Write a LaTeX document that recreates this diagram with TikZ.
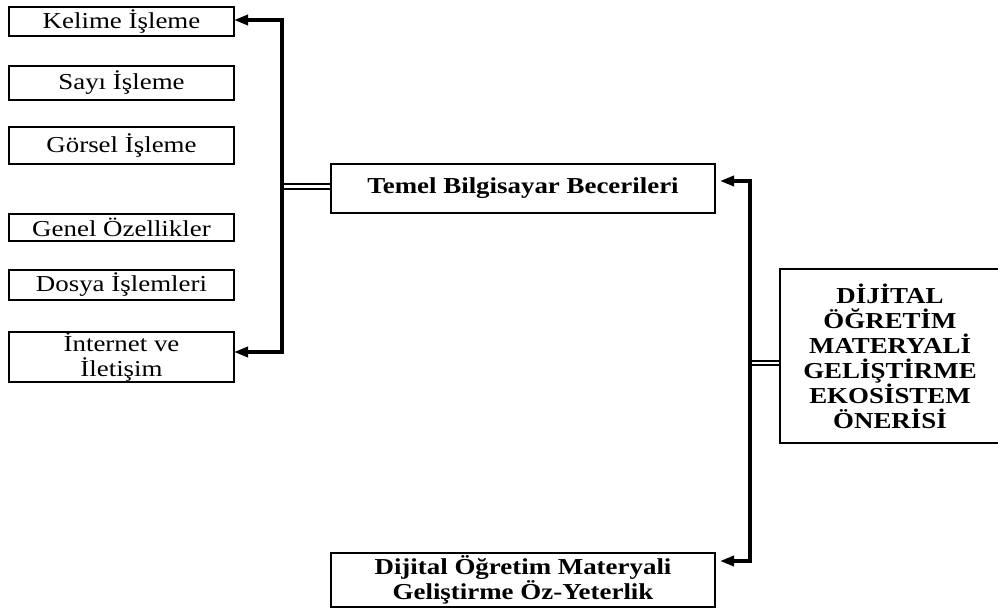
\documentclass[tikz,border=0pt]{standalone}
\usepackage{fontspec}
\setmainfont{Liberation Serif}[FakeStretch=1.18]
\usetikzlibrary{arrows.meta}
\tikzset{
  box/.style={draw=black, line width=1.5pt, fill=white, rectangle, inner sep=0pt, align=center,
    font=\fontsize{22.8}{25}\selectfont},
  bbox/.style={box, font=\fontsize{22.8}{25}\selectfont\bfseries},
  bus/.style={line width=3.4pt, line join=miter, -{Triangle[length=14pt,width=10pt]}},
  dbl/.style={double, double distance=2.4pt, line width=2pt}
}
\begin{document}
\begin{tikzpicture}[x=1pt,y=-1pt]
\useasboundingbox (0,0) rectangle (998,612);
% left column
\node[box, minimum width=225pt, minimum height=29pt] (kel) at (121.5,21.5) {Kelime İşleme};
\node[box, minimum width=225pt, minimum height=34pt] (say) at (121.5,83) {Sayı İşleme};
\node[box, minimum width=225pt, minimum height=37pt] (gor) at (121.5,145.5) {Görsel İşleme};
\node[box, minimum width=225pt, minimum height=27pt] (gen) at (121.5,227.5) {Genel Özellikler};
\node[box, minimum width=225pt, minimum height=30pt] (dos) at (121.5,285) {Dosya İşlemleri};
\node[box, minimum width=225pt, minimum height=50pt] (int) at (121.5,357) {İnternet ve\\İletişim};
% middle
\node[bbox, minimum width=384pt, minimum height=49pt] (tem) at (523,188.5) {Temel Bilgisayar Becerileri};
\node[bbox, minimum width=384pt, minimum height=54pt] (bot) at (523,580) {Dijital Öğretim Materyali\\Geliştirme Öz-Yeterlik};
% right
\node[bbox, minimum width=220pt, minimum height=174pt] (dij) at (890,356) {DİJİTAL\\ÖĞRETİM\\MATERYALİ\\GELİŞTİRME\\EKOSİSTEM\\ÖNERİSİ};
% connector coordinates
\coordinate (lj) at (282,186.5);
\coordinate (ka) at (234,20);
\coordinate (ia) at (234,352);
\coordinate (rj) at (750,363);
\coordinate (ta) at (720,181);
\coordinate (ba) at (720,561);
% left connectors
\draw[dbl] (tem.west |- lj) -- (lj);
\draw[bus] (lj) |- (ka);
\draw[bus] (lj) |- (ia);
% right connectors
\draw[dbl] (dij.west |- rj) -- (rj);
\draw[bus] (rj) |- (ta);
\draw[bus] (rj) |- (ba);
\end{tikzpicture}
\end{document}
